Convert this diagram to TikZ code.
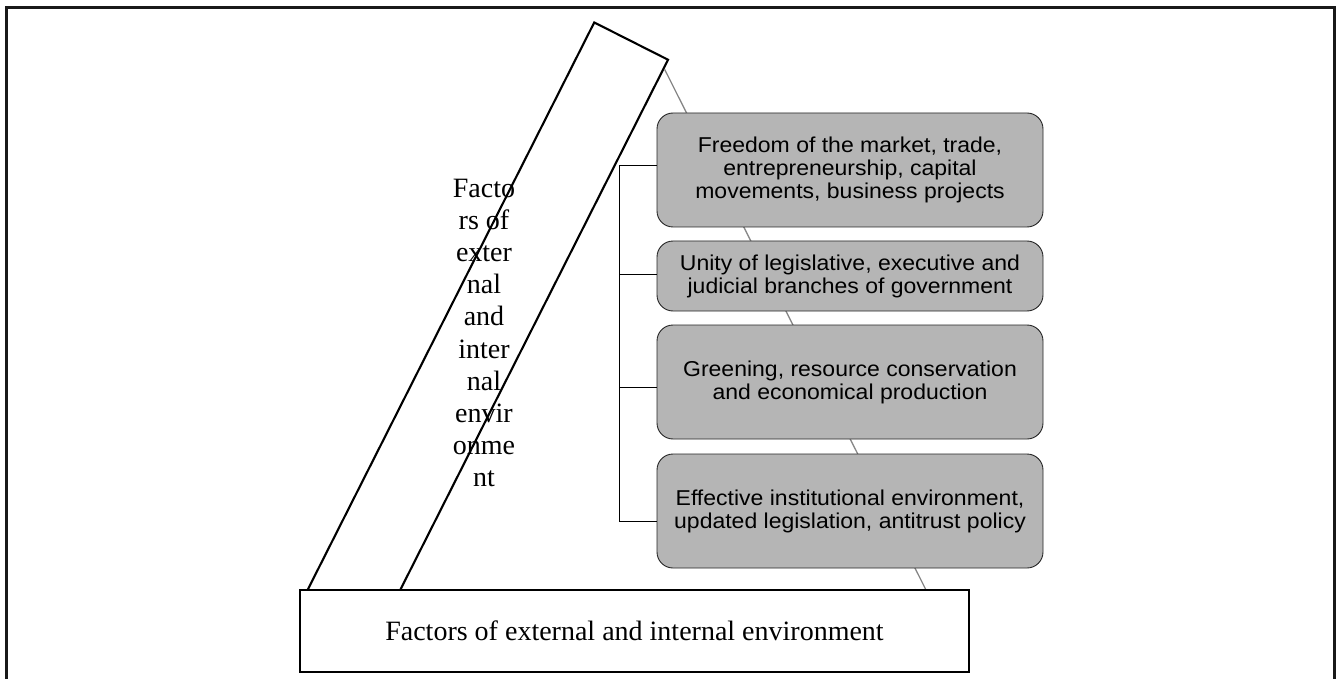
\documentclass[tikz,border=0pt]{standalone}
\usepackage{fontspec}
\setmainfont{Liberation Serif}
\newfontfamily\boxfont[FakeStretch=1.07]{Liberation Sans}
\usetikzlibrary{calc}
\definecolor{boxgray}{RGB}{181,181,181}
\definecolor{linkgray}{RGB}{135,135,135}
\begin{document}
\begin{tikzpicture}[x=1pt,y=-1pt,
  frameline/.style={line width=3pt, black!90},
  pillarbox/.style={draw, line width=2.1pt, fill=white, minimum width=82.7pt, minimum height=645pt, inner sep=0pt, rotate=-26.8},
  pillartext/.style={align=center, inner sep=0pt, font=\fontsize{28}{32.2}\selectfont},
  basebox/.style={draw, line width=2.5pt, fill=white, minimum width=669pt, minimum height=82pt, inner sep=0pt, font=\fontsize{28}{32}\selectfont},
  itembox/.style={draw=black!85, line width=0.9pt, fill=boxgray, rounded corners=16pt, minimum width=386pt, inner sep=0pt, align=center, font=\boxfont\fontsize{21.5}{23}\selectfont},
  linkline/.style={draw=linkgray, line width=1.3pt},
  bracket/.style={draw=black, line width=1pt}]
\useasboundingbox (0,0) rectangle (1336,679);
% outer frame (open at the bottom)
\draw[frameline] (6.5,679) -- (6.5,8) -- (1334,8) -- (1334,679);
% slanted pillar
\node[pillarbox] (pillar) at (485.75,328.95) {};
% gray link line behind the boxes
\coordinate (linkend) at (926,590);
\draw[linkline] ($(pillar.north east)!0.017!(pillar.south east)$) -- (linkend);
% base box
\node[basebox] (base) at (634.5,631) {Factors of external and internal environment};
% pillar text
\node[pillartext] (ptext) at (484,333) {Facto\\rs of\\exter\\nal\\and\\inter\\nal\\envir\\onme\\nt};
% item boxes
\node[itembox, minimum height=114pt] (b1) at (850,170) {Freedom of the market, trade,\\entrepreneurship, capital\\movements, business projects};
\node[itembox, minimum height=70pt] (b2) at (850,276) {Unity of legislative, executive and\\judicial branches of government};
\node[itembox, minimum height=114pt] (b3) at (850,382) {Greening, resource conservation\\and economical production};
\node[itembox, minimum height=114pt] (b4) at (850,511) {Effective institutional environment,\\updated legislation, antitrust policy};
% bracket
\coordinate (spine) at (619,0);
\draw[bracket] (b1.west |- 0,166) -- (spine |- 0,166) -- (spine |- 0,521) -- (b4.west |- 0,521);
\draw[bracket] (b2.west |- 0,274) -- (spine |- 0,274);
\draw[bracket] (b3.west |- 0,387) -- (spine |- 0,387);
\end{tikzpicture}
\end{document}
